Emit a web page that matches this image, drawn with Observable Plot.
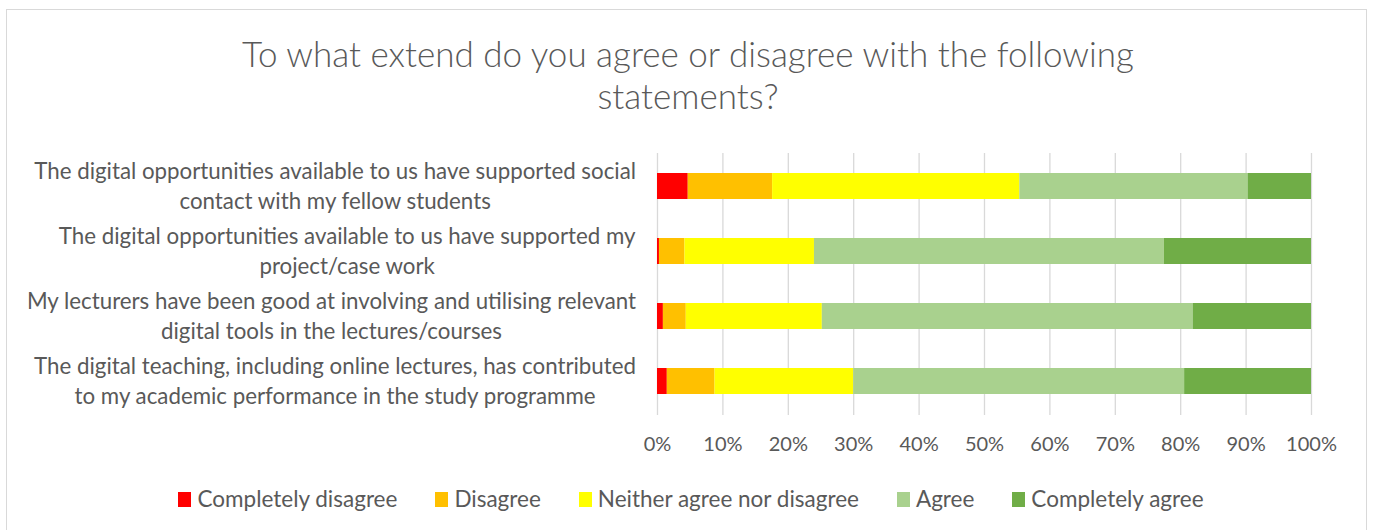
<!DOCTYPE html>
<html>
<head>
<meta charset="utf-8">
<script src="https://cdn.jsdelivr.net/npm/d3@7"></script>
<script src="https://cdn.jsdelivr.net/npm/@observablehq/plot@0.6"></script>
<style>
  html, body { margin: 0; padding: 0; background: #fff; }
  #wrap { position: relative; width: 1376px; height: 530px; overflow: hidden; font-family: Lato, "Open Sans", sans-serif; color: #595959; }
  #frame { position: absolute; left: 6px; top: 9px; width: 1361px; height: 540px; border: 1px solid #d9d9d9; box-sizing: border-box; }
  #title { position: absolute; left: 0; top: 32px; width: 1376px; text-align: center; font-size: 35px; font-weight: 300; line-height: 42px; }
  #chart { position: absolute; left: 0; top: 0; }
  #legend { position: absolute; left: 0; top: 486px; width: 1382px; display: flex; justify-content: center; font-size: 22.5px; line-height: 26px; }
  .item { display: flex; align-items: center; margin: 0 19px; }
  .sw { width: 13px; height: 15px; margin-right: 6px; }
</style>
</head>
<body>
<div id="wrap">
  <div id="frame"></div>
  <div id="chart"></div>
  <div id="title">To what extend do you agree or disagree with the following<br>statements?</div>
  <div id="legend"></div>
</div>
<script>
const questions = [
  "The digital opportunities available to us have supported social\ncontact with my fellow students",
  "The digital opportunities available to us have supported my\nproject/case work",
  "My lecturers have been good at involving and utilising relevant\ndigital tools in the lectures/courses",
  "The digital teaching, including online lectures, has contributed\nto my academic performance in the study programme"
];
const responses = ["Completely disagree", "Disagree", "Neither agree nor disagree", "Agree", "Completely agree"];
const colors = ["#FF0000", "#FFC000", "#FFFF00", "#A9D18E", "#70AD47"];
const completelyDisagree = [4.7, 0.3, 0.9, 1.5];
const disagree = [12.9, 3.9, 3.5, 7.3];
const neither = [37.8, 19.8, 20.8, 21.2];
const agree = [34.9, 53.5, 56.7, 50.6];
const completelyAgree = [9.7, 22.5, 18.1, 19.4];
const xTicks = [0, 10, 20, 30, 40, 50, 60, 70, 80, 90, 100];

const seriesValues = [completelyDisagree, disagree, neither, agree, completelyAgree];
const data = [];
questions.forEach((q, i) => {
  responses.forEach((r, j) => data.push({question: q, response: r, value: seriesValues[j][i]}));
});

const plot = Plot.plot({
  width: 1376,
  height: 475,
  marginLeft: 657,
  marginRight: 65,
  marginTop: 153,
  marginBottom: 60,
  style: {fontFamily: "Lato, 'Open Sans', sans-serif", fontSize: "20px", color: "#595959", background: "transparent"},
  x: {domain: [0, 100], axis: null, label: null},
  y: {domain: questions, paddingInner: 0.595, paddingOuter: 0.2975, axis: null},
  color: {domain: responses, range: colors},
  marks: [
    Plot.ruleX(xTicks, {x: d => d, stroke: "#d9d9d9", strokeWidth: 1.3}),
    Plot.barX(data, {x: "value", y: "question", fill: "response"}),
    Plot.axisX({ticks: xTicks, tickFormat: d => d + "%", tickSize: 0, tickPadding: 21, fontSize: 20, label: null}),
    Plot.text(questions, {y: d => d, text: d => d, frameAnchor: "left", textAnchor: "middle", lineHeight: 1.36, fontSize: 22.3, dy: -2, fill: "#595959", className: "ylab"})
  ]
});
document.getElementById("chart").appendChild(plot);

// right-align each label block at the category axis, keeping its lines centred
const svgRect = plot.getBoundingClientRect();
plot.querySelectorAll("g.ylab text").forEach(t => {
  const r = t.getBoundingClientRect();
  const delta = 636 - (r.right - svgRect.left);
  t.setAttribute("transform", (t.getAttribute("transform") || "") + ` translate(${delta},0)`);
});

const legend = document.getElementById("legend");
responses.forEach((r, i) => {
  const it = document.createElement("div");
  it.className = "item";
  const sw = document.createElement("div");
  sw.className = "sw";
  sw.style.background = colors[i];
  const tx = document.createElement("span");
  tx.textContent = r;
  it.appendChild(sw);
  it.appendChild(tx);
  legend.appendChild(it);
});
</script>
</body>
</html>
